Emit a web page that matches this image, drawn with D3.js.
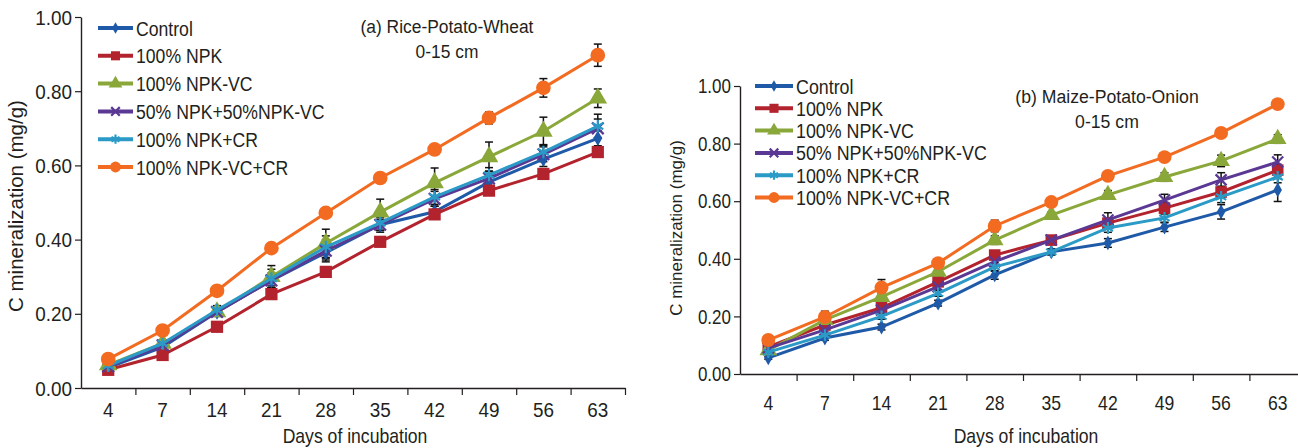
<!DOCTYPE html>
<html>
<head>
<meta charset="utf-8">
<script src="https://cdn.jsdelivr.net/npm/d3@7"></script>
<style>
body { margin: 0; background: #fff; }
svg { display: block; }
text { font-family: 'Liberation Sans', Arial, sans-serif; fill: #231f20; }
</style>
</head>
<body>
<svg width="1298" height="448"></svg>
<script>
const days = ["4", "7", "14", "21", "28", "35", "42", "49", "56", "63"];
const seriesNames = ["Control", "100% NPK", "100% NPK-VC", "50% NPK+50%NPK-VC", "100% NPK+CR", "100% NPK-VC+CR"];
const seriesColors = ["#1f5aa8", "#b3232e", "#8aa83a", "#5a3893", "#2b9ac6", "#f26b21"];
const yTicks = [0, 0.2, 0.4, 0.6, 0.8, 1.0];

// (a) Rice-Potato-Wheat
const aControl = [0.055, 0.110, 0.205, 0.290, 0.365, 0.440, 0.475, 0.555, 0.617, 0.673];
const aNPK     = [0.049, 0.089, 0.165, 0.253, 0.313, 0.394, 0.468, 0.532, 0.577, 0.636];
const aNPKVC   = [0.062, 0.120, 0.205, 0.300, 0.390, 0.474, 0.553, 0.623, 0.692, 0.781];
const aHalf    = [0.058, 0.115, 0.205, 0.290, 0.370, 0.440, 0.510, 0.565, 0.630, 0.700];
const aNPKCR   = [0.060, 0.120, 0.210, 0.295, 0.380, 0.445, 0.515, 0.574, 0.636, 0.706];
const aVCCR    = [0.078, 0.155, 0.262, 0.377, 0.472, 0.566, 0.643, 0.728, 0.809, 0.897];
// error bars (+/-)
const aErrControl = [0.005, 0.008, 0.010, 0.015, 0.020, 0.015, 0.015, 0.015, 0.020, 0.020];
const aErrNPK     = [0.004, 0.006, 0.008, 0.010, 0.010, 0.010, 0.010, 0.010, 0.010, 0.010];
const aErrNPKVC   = [0.005, 0.008, 0.012, 0.030, 0.038, 0.035, 0.040, 0.040, 0.038, 0.025];
const aErrHalf    = [0.005, 0.008, 0.010, 0.020, 0.030, 0.020, 0.020, 0.020, 0.020, 0.025];
const aErrNPKCR   = [0.005, 0.010, 0.012, 0.025, 0.030, 0.020, 0.020, 0.020, 0.020, 0.032];
const aErrVCCR    = [0.004, 0.006, 0.008, 0.008, 0.008, 0.008, 0.013, 0.016, 0.025, 0.030];

// (b) Maize-Potato-Onion
const bControl = [0.056, 0.125, 0.163, 0.246, 0.344, 0.424, 0.455, 0.510, 0.563, 0.639];
const bNPK     = [0.094, 0.170, 0.230, 0.320, 0.413, 0.465, 0.524, 0.576, 0.632, 0.708];
const bNPKVC   = [0.083, 0.188, 0.268, 0.355, 0.465, 0.552, 0.622, 0.684, 0.740, 0.816];
const bHalf    = [0.090, 0.153, 0.222, 0.303, 0.390, 0.465, 0.535, 0.604, 0.674, 0.736];
const bNPKCR   = [0.076, 0.135, 0.200, 0.280, 0.372, 0.424, 0.507, 0.542, 0.615, 0.684];
const bVCCR    = [0.118, 0.198, 0.300, 0.385, 0.514, 0.597, 0.688, 0.753, 0.837, 0.937];
const bErrControl = [0.005, 0.008, 0.010, 0.010, 0.015, 0.010, 0.015, 0.015, 0.025, 0.040];
const bErrNPK     = [0.005, 0.008, 0.010, 0.010, 0.015, 0.010, 0.015, 0.020, 0.020, 0.020];
const bErrNPKVC   = [0.005, 0.008, 0.010, 0.010, 0.015, 0.010, 0.015, 0.015, 0.020, 0.015];
const bErrHalf    = [0.005, 0.008, 0.010, 0.010, 0.015, 0.015, 0.025, 0.020, 0.025, 0.025];
const bErrNPKCR   = [0.005, 0.008, 0.010, 0.010, 0.015, 0.010, 0.015, 0.015, 0.020, 0.020];
const bErrVCCR    = [0.010, 0.020, 0.028, 0.015, 0.020, 0.015, 0.010, 0.010, 0.010, 0.010];

const svg = d3.select("svg");

const symbolTypes = [d3.symbolDiamond, d3.symbolSquare, d3.symbolTriangle, d3.symbolX, d3.symbolAsterisk, d3.symbolCircle];
const symbolSizes = [70, 150, 150, 90, 110, 170];
const strokeSymbol = [false, false, false, true, true, false];

function marker(sel, i, scale) {
    const p = sel.append("path")
        .attr("d", d3.symbol().type(symbolTypes[i]).size(symbolSizes[i] * scale)());
    if (strokeSymbol[i]) {
        p.attr("fill", "none").attr("stroke", seriesColors[i]).attr("stroke-width", 2.2);
    } else {
        p.attr("fill", seriesColors[i]);
    }
    return p;
}

// no condensed font available, so squeeze the text horizontally
function ctext(parent, x, y, str, fs, sx, anchor, rot) {
    return parent.append("text")
        .attr("transform", "translate(" + x + "," + y + ")" + (rot ? " rotate(-90)" : "") + " scale(" + sx + ",1)")
        .attr("text-anchor", anchor || "start")
        .attr("font-size", fs)
        .text(str);
}

function drawPanel(cfg) {
    const g = svg.append("g");
    const x = d3.scaleBand().domain(days).range([cfg.x0, cfg.x1]);
    const xi = d3.scaleLinear().domain([0, days.length]).range([cfg.x0, cfg.x1]);
    const y = d3.scaleLinear().domain([0, 1]).range([cfg.y0, cfg.y1]);

    // y axis
    const ya = g.append("g")
        .attr("transform", "translate(" + cfg.x0 + ",0)")
        .call(d3.axisLeft(y).tickValues(yTicks).tickFormat("")
            .tickSizeInner(6).tickSizeOuter(0));
    ya.select(".domain").attr("stroke", "#231f20").attr("stroke-width", 1.4);
    ya.selectAll(".tick line").attr("stroke", "#231f20").attr("stroke-width", 1.2);
    yTicks.forEach(t => {
        ctext(g, cfg.x0 - 9, y(t) + cfg.yTickFs * 0.36, d3.format(".2f")(t), cfg.yTickFs, cfg.yTickSx, "end");
    });

    // x axis: ticks on band edges, labels centred in bands
    const xa = g.append("g")
        .attr("transform", "translate(0," + cfg.y0 + ")")
        .call(d3.axisBottom(xi).tickValues(d3.range(1, days.length + 1))
            .tickFormat("").tickSizeInner(7).tickSizeOuter(0));
    xa.select(".domain").attr("stroke", "#231f20").attr("stroke-width", 1.4);
    xa.selectAll(".tick line").attr("stroke", "#231f20").attr("stroke-width", 1.2);
    days.forEach(d => {
        ctext(g, x(d) + x.bandwidth() / 2, cfg.y0 + cfg.labelOff, d, cfg.xTickFs, cfg.xTickSx, "middle");
    });

    ctext(g, cfg.xTitleX, 443, "Days of incubation", 20, 0.88, "middle");
    ctext(g, cfg.yTitleX, cfg.yTitleY, "C mineralization (mg/g)", cfg.yTitleFs, 1, "middle", true);

    ctext(g, cfg.titleX, cfg.titleY, cfg.title, 19, cfg.titleSx, "middle");
    ctext(g, cfg.titleX, cfg.titleY + 25, "0-15 cm", 19, cfg.titleSx, "middle");

    const cx = d => x(d) + x.bandwidth() / 2;

    // error bars under the lines
    const eb = g.append("g").attr("stroke", "#111").attr("stroke-width", 1.5);
    cfg.values.forEach((vals, s) => {
        vals.forEach((v, j) => {
            const e = cfg.errors[s][j];
            const px = cx(days[j]);
            eb.append("line").attr("x1", px).attr("x2", px).attr("y1", y(v - e)).attr("y2", y(v + e));
            eb.append("line").attr("x1", px - 4).attr("x2", px + 4).attr("y1", y(v + e)).attr("y2", y(v + e));
            eb.append("line").attr("x1", px - 4).attr("x2", px + 4).attr("y1", y(v - e)).attr("y2", y(v - e));
        });
    });

    const line = d3.line().x((d, j) => cx(days[j])).y(d => y(d));
    cfg.values.forEach((vals, s) => {
        g.append("path").datum(vals)
            .attr("fill", "none")
            .attr("stroke", seriesColors[s])
            .attr("stroke-width", 3)
            .attr("d", line);
        vals.forEach((v, j) => {
            marker(g, s, cfg.markScale).attr("transform", "translate(" + cx(days[j]) + "," + y(v) + ")");
        });
    });

    // legend
    const lg = g.append("g");
    seriesNames.forEach((name, s) => {
        const ly = cfg.legY + s * cfg.legStep;
        lg.append("line")
            .attr("x1", cfg.legX).attr("x2", cfg.legX + cfg.legLen)
            .attr("y1", ly).attr("y2", ly)
            .attr("stroke", seriesColors[s]).attr("stroke-width", 4);
        marker(lg, s, 0.55).attr("transform", "translate(" + (cfg.legX + cfg.legLen / 2) + "," + ly + ")");
        ctext(lg, cfg.legX + cfg.legLen + 3, ly + 7.5, name, 21, cfg.legSx);
    });
}

drawPanel({
    x0: 81, x1: 625, y0: 388, y1: 17, labelOff: 29,
    yTickFs: 21, yTickSx: 0.9, xTickFs: 21, xTickSx: 0.9,
    xTitleX: 355, yTitleX: 23, yTitleY: 206, yTitleFs: 20.5,
    title: "(a) Rice-Potato-Wheat", titleX: 447, titleY: 33, titleSx: 0.915,
    legX: 98, legLen: 35, legY: 28, legStep: 27.8, legSx: 0.84, markScale: 1,
    values: [aControl, aNPK, aNPKVC, aHalf, aNPKCR, aVCCR],
    errors: [aErrControl, aErrNPK, aErrNPKVC, aErrHalf, aErrNPKCR, aErrVCCR]
});

drawPanel({
    x0: 740, x1: 1306, y0: 374, y1: 86, labelOff: 36,
    yTickFs: 20, yTickSx: 0.85, xTickFs: 20, xTickSx: 0.88,
    xTitleX: 1026, yTitleX: 682, yTitleY: 228, yTitleFs: 17,
    title: "(b) Maize-Potato-Onion", titleX: 1107, titleY: 103, titleSx: 0.93,
    legX: 755, legLen: 38, legY: 86, legStep: 22.3, legSx: 0.85, markScale: 0.9,
    values: [bControl, bNPK, bNPKVC, bHalf, bNPKCR, bVCCR],
    errors: [bErrControl, bErrNPK, bErrNPKVC, bErrHalf, bErrNPKCR, bErrVCCR]
});
</script>
</body>
</html>
